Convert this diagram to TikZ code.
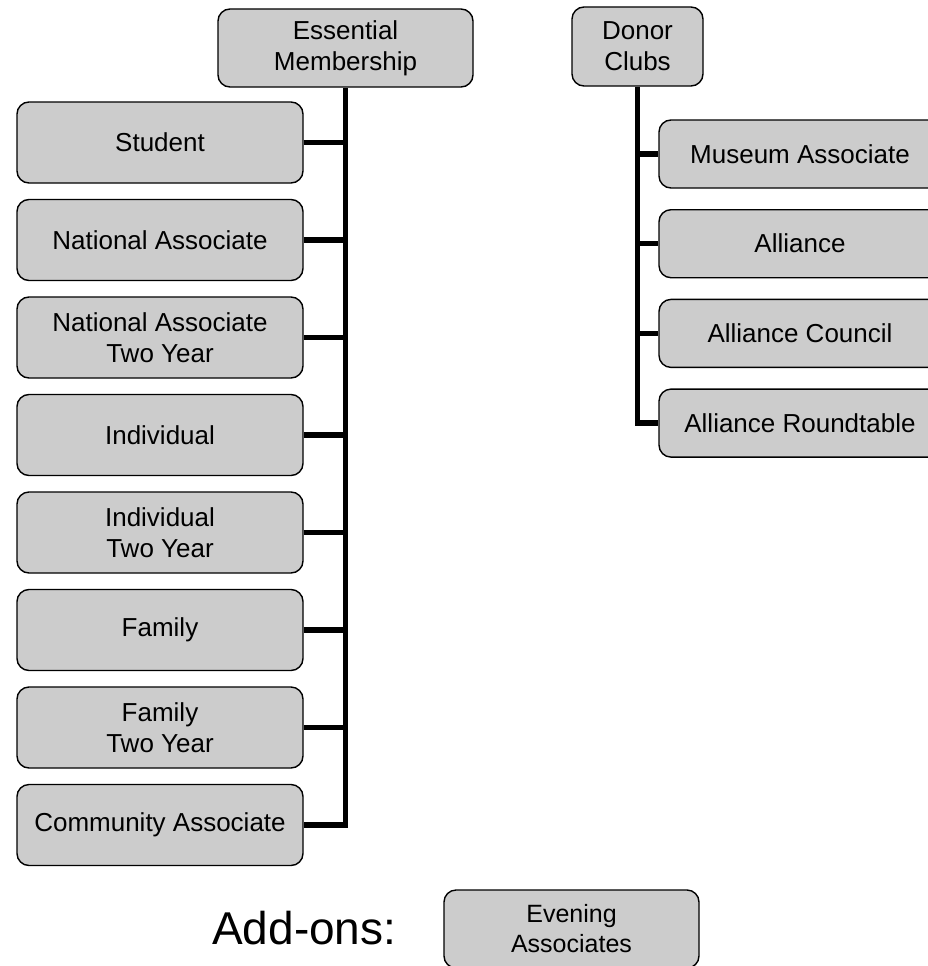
\documentclass[tikz,border=0pt]{standalone}
\usepackage{fontspec}
\setmainfont{Liberation Sans}
\definecolor{boxgray}{RGB}{204,204,204}
\begin{document}
\begin{tikzpicture}[x=1pt,y=-1pt,
  box/.style={draw=black, fill=boxgray, line width=1.4pt, rounded corners=12pt,
    align=center, inner sep=0pt, font=\fontsize{26}{31}\selectfont},
  leftbox/.style={box, minimum width=286pt, minimum height=81pt},
  rightbox/.style={box, minimum width=282pt, minimum height=68pt},
  link/.style={line width=5.5pt, draw=black}]
  \useasboundingbox (0,0) rectangle (928,966);
  \clip (0,0) rectangle (928,966);

  % essential membership column
  \node[box, minimum width=255pt, minimum height=78pt] (ess) at (345.5,48) {Essential\\Membership};
  \node[leftbox] (stu)  at (160,142.5) {Student};
  \node[leftbox] (nat)  at (160,240)   {National Associate};
  \node[leftbox] (nat2) at (160,337.5) {National Associate\\Two Year};
  \node[leftbox] (ind)  at (160,435)   {Individual};
  \node[leftbox] (ind2) at (160,532.5) {Individual\\Two Year};
  \node[leftbox] (fam)  at (160,630)   {Family};
  \node[leftbox] (fam2) at (160,727.5) {Family\\Two Year};
  \node[leftbox] (com)  at (160,825)   {Community Associate};

  % donor clubs column
  \node[box, minimum width=131pt, minimum height=79pt] (don) at (637.5,46.5) {Donor\\Clubs};
  \node[rightbox] (mus) at (800,154)   {Museum Associate};
  \node[rightbox] (all) at (800,243.7) {Alliance};
  \node[rightbox] (alc) at (800,333.4) {Alliance Council};
  \node[rightbox] (alr) at (800,423.1) {Alliance Roundtable};

  % add-ons
  \node[anchor=base west, inner sep=0pt, font=\fontsize{46}{55}\selectfont] (add) at (212,944) {Add-ons:};
  \node[box, minimum width=255pt, minimum height=78pt, font=\fontsize{25}{30}\selectfont] (eve) at (571.5,929) {Evening\\Associates};

  % connectors, left tree
  \draw[link] (ess.south) -- (ess.south |- com.east) -- (com.east);
  \foreach \b in {stu,nat,nat2,ind,ind2,fam,fam2}
    \draw[link] (\b.east) -- (\b.east -| ess.south);

  % connectors, right tree
  \draw[link] (don.south) -- (don.south |- alr.west) -- (alr.west);
  \foreach \b in {mus,all,alc}
    \draw[link] (\b.west -| don.south) -- (\b.west);
\end{tikzpicture}
\end{document}
